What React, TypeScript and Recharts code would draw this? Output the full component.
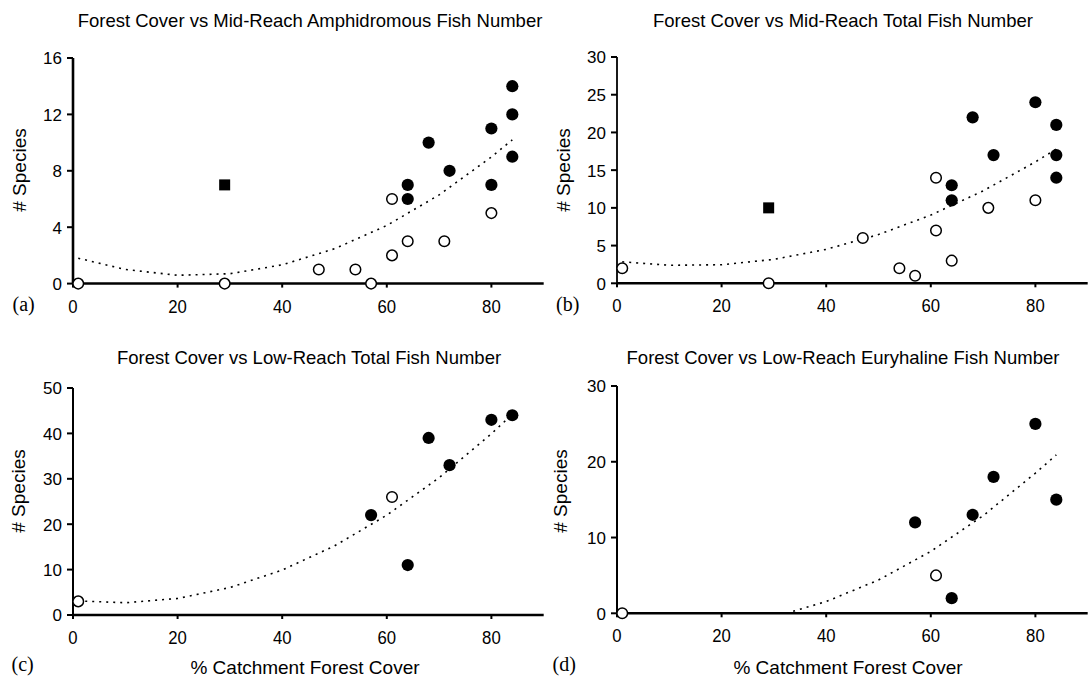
import React from "react";
import { ScatterChart, Scatter, XAxis, YAxis } from "recharts";

// ---------- data ----------
const xTicks = [0, 20, 40, 60, 80];

const aYTicks = [0, 4, 8, 12, 16];
const aOpen = [
  { x: 1, y: 0 }, { x: 29, y: 0 }, { x: 47, y: 1 }, { x: 54, y: 1 }, { x: 57, y: 0 },
  { x: 61, y: 6 }, { x: 61, y: 2 }, { x: 64, y: 3 }, { x: 71, y: 3 }, { x: 80, y: 5 },
];
const aFilled = [
  { x: 64, y: 7 }, { x: 64, y: 6 }, { x: 68, y: 10 }, { x: 72, y: 8 }, { x: 80, y: 11 },
  { x: 80, y: 7 }, { x: 84, y: 14 }, { x: 84, y: 12 }, { x: 84, y: 9 },
];
const aSquare = [{ x: 29, y: 7 }];
const aTrend = [
  { x: 1, y: 1.8 }, { x: 10, y: 1.0 }, { x: 20, y: 0.59 }, { x: 30, y: 0.7 }, { x: 40, y: 1.33 },
  { x: 50, y: 2.47 }, { x: 60, y: 4.12 }, { x: 70, y: 6.29 }, { x: 80, y: 8.98 }, { x: 84, y: 10.2 },
];

const bYTicks = [0, 5, 10, 15, 20, 25, 30];
const bOpen = [
  { x: 1, y: 2 }, { x: 29, y: 0 }, { x: 47, y: 6 }, { x: 54, y: 2 }, { x: 57, y: 1 },
  { x: 61, y: 14 }, { x: 61, y: 7 }, { x: 64, y: 3 }, { x: 71, y: 10 }, { x: 80, y: 11 },
];
const bFilled = [
  { x: 64, y: 13 }, { x: 64, y: 11 }, { x: 68, y: 22 }, { x: 72, y: 17 }, { x: 80, y: 24 },
  { x: 84, y: 21 }, { x: 84, y: 17 }, { x: 84, y: 14 },
];
const bSquare = [{ x: 29, y: 10 }];
const bTrend = [
  { x: 1, y: 2.85 }, { x: 10, y: 2.39 }, { x: 20, y: 2.46 }, { x: 30, y: 3.17 }, { x: 40, y: 4.5 },
  { x: 50, y: 6.46 }, { x: 60, y: 9.04 }, { x: 70, y: 12.25 }, { x: 80, y: 16.09 }, { x: 84, y: 17.8 },
];

const cYTicks = [0, 10, 20, 30, 40, 50];
const cOpen = [{ x: 1, y: 3 }, { x: 61, y: 26 }];
const cFilled = [
  { x: 57, y: 22 }, { x: 64, y: 11 }, { x: 68, y: 39 }, { x: 72, y: 33 }, { x: 80, y: 43 }, { x: 84, y: 44 },
];
const cTrend = [
  { x: 1, y: 3.1 }, { x: 10, y: 2.7 }, { x: 20, y: 3.64 }, { x: 30, y: 6.04 }, { x: 40, y: 9.9 },
  { x: 50, y: 15.22 }, { x: 60, y: 21.99 }, { x: 70, y: 30.23 }, { x: 80, y: 39.92 }, { x: 84, y: 44.2 },
];

const dYTicks = [0, 10, 20, 30];
const dOpen = [{ x: 1, y: 0 }, { x: 61, y: 5 }];
const dFilled = [
  { x: 57, y: 12 }, { x: 64, y: 2 }, { x: 68, y: 13 }, { x: 72, y: 18 }, { x: 80, y: 25 }, { x: 84, y: 15 },
];
const dTrend = [
  { x: 32.4, y: 0 }, { x: 40, y: 1.55 }, { x: 50, y: 4.39 }, { x: 60, y: 8.17 },
  { x: 70, y: 12.88 }, { x: 80, y: 18.5 }, { x: 84, y: 20.9 },
];

const titles = [
  "Forest Cover vs Mid-Reach Amphidromous Fish Number",
  "Forest Cover vs Mid-Reach Total Fish Number",
  "Forest Cover vs Low-Reach Total Fish Number",
  "Forest Cover vs Low-Reach Euryhaline Fish Number",
];
const panelTags = ["(a)", "(b)", "(c)", "(d)"];
const yTitle = "# Species";
const xTitle = "% Catchment Forest Cover";

// ---------- rendering ----------
const SANS = "'Liberation Sans', Arial, Helvetica, sans-serif";
const SERIF = "'Liberation Serif', 'Times New Roman', serif";

const YW = 50;
const MT = 10;
const MR = 2;
const XH = 40;

const openShape = (p: any) => (
  <circle cx={p.cx} cy={p.cy} r={5.3} fill="#fff" stroke="#000" strokeWidth={1.5} />
);
const filledShape = (p: any) => <circle cx={p.cx} cy={p.cy} r={6.1} fill="#000" />;
const squareShape = (p: any) => (
  <rect x={p.cx - 5.5} y={p.cy - 5.5} width={11} height={11} fill="#000" />
);
const noShape = () => <g />;

const xTick = (p: any) => (
  <g transform={`translate(${p.x},${p.y + 25})`}>
    <text x={0} y={0} textAnchor="middle" fontFamily={SANS} fontSize={19} fill="#000" transform="scale(0.88,1)">
      {p.payload.value}
    </text>
  </g>
);
const yTick = (p: any) => (
  <text x={p.x} y={p.y + 6.5} textAnchor="end" fontFamily={SANS} fontSize={17} fill="#000">
    {p.payload.value}
  </text>
);

type PanelProps = {
  left: number;
  top: number;
  width: number;
  height: number;
  xMax: number;
  yMax: number;
  yTicks: number[];
  yStroke: number;
  open: { x: number; y: number }[];
  filled: { x: number; y: number }[];
  square?: { x: number; y: number }[];
  trend: { x: number; y: number }[];
};

function Panel(props: PanelProps) {
  const { left, top, width, height, xMax, yMax, yTicks, yStroke, open, filled, square, trend } = props;
  return (
    <div style={{ position: "absolute", left: left - YW, top: top - MT }}>
      <ScatterChart
        width={width + YW + MR}
        height={height + MT + XH}
        margin={{ top: MT, right: MR, bottom: 0, left: 0 }}
      >
        <XAxis
          type="number"
          dataKey="x"
          domain={[0, xMax]}
          ticks={xTicks}
          height={XH}
          axisLine={{ stroke: "#000", strokeWidth: 2.5 }}
          tickLine={{ stroke: "#000", strokeWidth: 2 }}
          tickSize={4}
          tickMargin={0}
          tick={xTick}
        />
        <YAxis
          type="number"
          dataKey="y"
          domain={[0, yMax]}
          ticks={yTicks}
          width={YW}
          axisLine={{ stroke: "#000", strokeWidth: yStroke }}
          tickLine={{ stroke: "#000", strokeWidth: 2 }}
          tickSize={6}
          tickMargin={5}
          tick={yTick}
        />
        <Scatter
          data={trend}
          line={{ stroke: "#000", strokeWidth: 1.6, strokeDasharray: "2 5" }}
          lineType="joint"
          shape={noShape}
          isAnimationActive={false}
        />
        <Scatter data={open} shape={openShape} isAnimationActive={false} />
        <Scatter data={filled} shape={filledShape} isAnimationActive={false} />
        {square ? <Scatter data={square} shape={squareShape} isAnimationActive={false} /> : null}
      </ScatterChart>
    </div>
  );
}

const abs = (s: React.CSSProperties): React.CSSProperties => ({ position: "absolute", whiteSpace: "nowrap", color: "#000", ...s });

function Title({ text, cx, top }: { text: string; cx: number; top: number }) {
  return (
    <div style={abs({ left: cx - 300, width: 600, top, textAlign: "center", fontFamily: SANS, fontSize: 18.5, lineHeight: "18.5px" })}>
      {text}
    </div>
  );
}

function YLabel({ cx, cy }: { cx: number; cy: number }) {
  return (
    <div
      style={abs({
        left: cx - 100,
        top: cy - 10,
        width: 200,
        height: 20,
        textAlign: "center",
        fontFamily: SANS,
        fontSize: 19,
        lineHeight: "20px",
        transform: "rotate(-90deg)",
      })}
    >
      {yTitle}
    </div>
  );
}

function Tag({ text, left, top }: { text: string; left: number; top: number }) {
  return (
    <div style={abs({ left, top, fontFamily: SERIF, fontSize: 20, lineHeight: "20px" })}>{text}</div>
  );
}

function XLabel({ cx, top }: { cx: number; top: number }) {
  return (
    <div style={abs({ left: cx - 200, width: 400, top, textAlign: "center", fontFamily: SANS, fontSize: 19, lineHeight: "19px" })}>
      {xTitle}
    </div>
  );
}

export default function App() {
  return (
    <div
      style={{
        position: "absolute",
        left: 0,
        top: 0,
        width: 1088,
        height: 677,
        overflow: "hidden",
        background: "#fff",
      }}
    >
      <Panel left={73} top={57.7} width={470.7} height={225.6} xMax={90} yMax={16} yTicks={aYTicks} yStroke={2.6}
        open={aOpen} filled={aFilled} square={aSquare} trend={aTrend} />
      <Panel left={617} top={56.7} width={470.7} height={226.3} xMax={90} yMax={30} yTicks={bYTicks} yStroke={1.8}
        open={bOpen} filled={bFilled} square={bSquare} trend={bTrend} />
      <Panel left={73} top={388} width={470.7} height={227} xMax={90} yMax={50} yTicks={cYTicks} yStroke={2}
        open={cOpen} filled={cFilled} trend={cTrend} />
      <Panel left={617} top={386} width={470.7} height={227.3} xMax={90} yMax={30} yTicks={dYTicks} yStroke={2}
        open={dOpen} filled={dFilled} trend={dTrend} />

      <Title text={titles[0]} cx={310} top={11.6} />
      <Title text={titles[1]} cx={843} top={11.6} />
      <Title text={titles[2]} cx={309} top={349.3} />
      <Title text={titles[3]} cx={843} top={349.3} />

      <YLabel cx={20} cy={170} />
      <YLabel cx={564} cy={170} />
      <YLabel cx={19} cy={491} />
      <YLabel cx={561} cy={491} />

      <Tag text={panelTags[0]} left={12.5} top={293.5} />
      <Tag text={panelTags[1]} left={556} top={293.5} />
      <Tag text={panelTags[2]} left={11.5} top={653.5} />
      <Tag text={panelTags[3]} left={552.5} top={653.5} />

      <XLabel cx={305} top={658} />
      <XLabel cx={848} top={658} />
    </div>
  );
}
